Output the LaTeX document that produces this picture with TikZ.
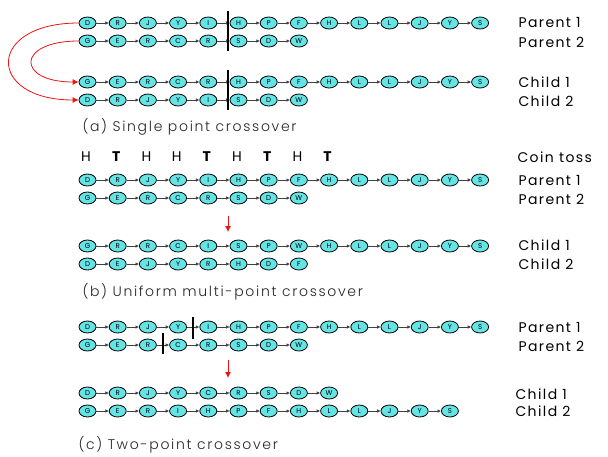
\documentclass[tikz,border=0pt]{standalone}
\usepackage{fontspec}
\setmainfont{Poppins}
\newfontfamily\lblfont[LetterSpace=10]{Poppins}
\newfontfamily\capfont[LetterSpace=12]{Poppins Light}
\usetikzlibrary{arrows.meta,calc,shapes.geometric}

\definecolor{genefill}{RGB}{100,228,228}
\definecolor{crossred}{RGB}{238,20,20}

\tikzset{
  gene/.style={ellipse, draw=black, line width=0.8pt, fill=genefill,
    minimum width=17pt, minimum height=12pt, inner sep=0pt,
    font=\fontsize{7}{7}\selectfont},
  link/.style={-{Latex[length=3.5pt,width=3.5pt]}, line width=0.6pt, black!75},
  cut/.style={line width=1.6pt, black},
  rowlabel/.style={anchor=west, font=\lblfont\fontsize{14}{16}\selectfont},
  caption/.style={anchor=west, font=\capfont\fontsize{14}{16}\selectfont, text=black!85},
  toss/.style={font=\fontsize{14}{16}\selectfont},
  swap/.style={-{Latex[length=6pt,width=6pt]}, crossred, line width=0.8pt},
}

% a chromosome: genes placed left to right, each linked to the next
\newcommand\genechain[3]{%
  \foreach \g [count=\i, remember=\i as \j (initially 0)] in {#3} {
    \node[gene] (#1-\i) at ({87.5+30.2*(\i-1)},#2) {\g};
    \ifnum\j>0 \draw[link] (#1-\j) -- (#1-\i);\fi
  }%
}

\begin{document}
\begin{tikzpicture}[x=1pt,y=-1pt]
\path[fill=white,use as bounding box] (0,0) rectangle (608,456);

% ---------- (a) single point crossover ----------
\genechain{ap}{23}{D,R,J,Y,I,H,P,F,H,L,L,J,Y,S}
\genechain{aq}{41}{G,E,R,C,R,S,D,W}
\genechain{ac}{82}{G,E,R,C,R,H,P,F,H,L,L,J,Y,S}
\genechain{ad}{100}{D,R,J,Y,I,S,D,W}
\draw[cut] ($(ap-5)!0.65!(ap-6)$) ++(0,-12) -- ++(0,40);
\draw[cut] ($(ac-5)!0.65!(ac-6)$) ++(0,-12) -- ++(0,40);
\draw[swap] (ap-1.west) .. controls (-14,23) and (-14,100) .. (ad-1.west);
\draw[swap] (aq-1.west) .. controls (16,41) and (16,82) .. (ac-1.west);
\node[rowlabel] (la1) at (515,22) {Parent 1};
\node[rowlabel] (la2) at (515,42) {Parent 2};
\node[rowlabel] (la3) at (515,82) {Child 1};
\node[rowlabel] (la4) at (515,101) {Child 2};
\node[caption] (capa) at (79,127) {(a) Single point crossover};

% ---------- (b) uniform multi-point crossover ----------
\foreach \c [count=\i] in {H,\textbf{T},H,H,\textbf{T},H,\textbf{T},H,\textbf{T}}
  \node[toss] (t-\i) at ({86+30.2*(\i-1)},157) {\c};
\genechain{bp}{180}{D,R,J,Y,I,H,P,F,H,L,L,J,Y,S}
\genechain{bq}{198}{G,E,R,C,R,S,D,W}
\genechain{bc}{246}{G,R,R,C,I,S,P,W,H,L,L,J,Y,S}
\genechain{bd}{264}{D,E,J,Y,R,H,D,F}
\coordinate (bs) at (228,216);
\coordinate (be) at (228,232);
\draw[swap] (bs) -- (be);
\node[rowlabel] (lb0) at (514,157) {Coin toss};
\node[rowlabel] (lb1) at (515,180) {Parent 1};
\node[rowlabel] (lb2) at (515,199) {Parent 2};
\node[rowlabel] (lb3) at (515,245) {Child 1};
\node[rowlabel] (lb4) at (515,264) {Child 2};
\node[caption] (capb) at (79,292) {(b) Uniform multi-point crossover};

% ---------- (c) two-point crossover ----------
\genechain{cp}{327}{D,R,J,Y,I,H,P,F,H,L,L,J,Y,S}
\genechain{cq}{345}{G,E,R,C,R,S,D,W}
\genechain{cc}{393}{D,R,J,Y,C,R,S,D,W}
\genechain{cd}{411}{G,E,R,I,H,P,F,H,L,L,J,Y,S}
\draw[cut] ($(cp-4)!0.5!(cp-5)$) ++(0,-10) -- ++(0,22);
\draw[cut] ($(cq-3)!0.5!(cq-4)$) ++(0,-12) -- ++(0,21);
\coordinate (cs) at (228,360);
\coordinate (ce) at (228,378);
\draw[swap] (cs) -- (ce);
\node[rowlabel] (lc1) at (515,327) {Parent 1};
\node[rowlabel] (lc2) at (515,346) {Parent 2};
\node[rowlabel] (lc3) at (512,394) {Child 1};
\node[rowlabel] (lc4) at (512,411) {Child 2};
\node[caption] (capc) at (75,445) {(c) Two-point crossover};
\end{tikzpicture}
\end{document}
